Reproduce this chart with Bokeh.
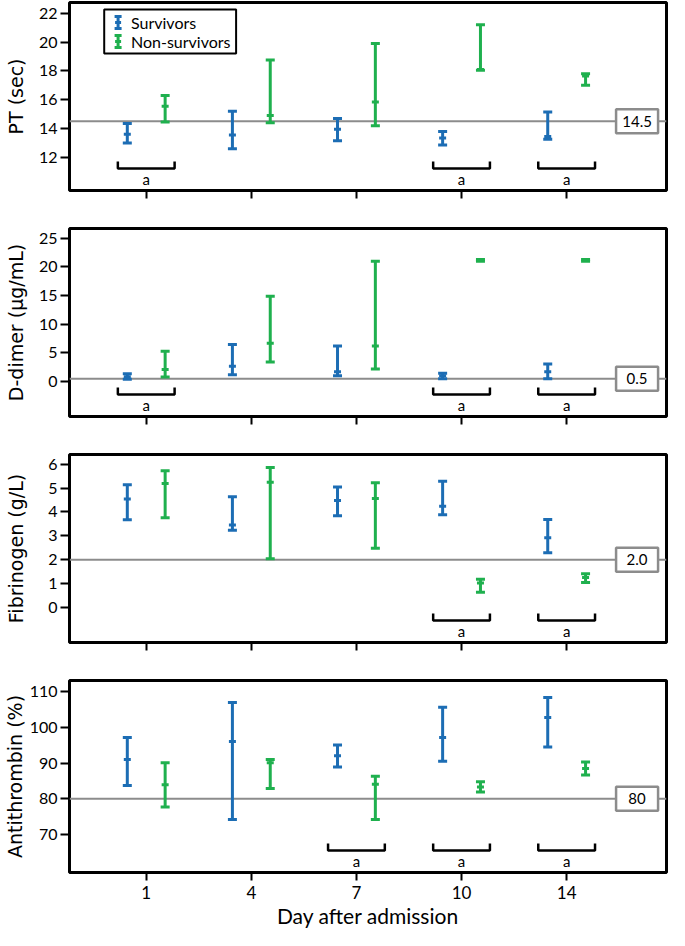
import numpy as np
from bokeh.plotting import figure
from bokeh.layouts import column
from bokeh.models import FixedTicker, Range1d, Span
from bokeh.core.properties import value
from bokeh.embed import file_html
from bokeh.resources import INLINE

# ---------------- data ----------------
days = ["1", "4", "7", "10", "14"]

pt_surv_med = [13.6, 13.55, 13.95, 13.35, 13.45]
pt_surv_lo = [13.0, 12.6, 13.15, 12.85, 13.25]
pt_surv_hi = [14.35, 15.2, 14.7, 13.8, 15.15]
pt_non_med = [15.55, 14.9, 15.85, 18.1, 17.65]
pt_non_lo = [14.45, 14.4, 14.2, 18.05, 17.0]
pt_non_hi = [16.3, 18.75, 19.9, 21.2, 17.8]

dd_surv_med = [0.85, 2.65, 1.7, 1.0, 1.7]
dd_surv_lo = [0.4, 1.2, 1.0, 0.5, 0.5]
dd_surv_hi = [1.35, 6.45, 6.2, 1.45, 3.05]
dd_non_med = [2.1, 6.7, 6.2, 21.15, 21.15]
dd_non_lo = [0.8, 3.4, 2.2, 21.0, 21.0]
dd_non_hi = [5.3, 14.9, 21.0, 21.3, 21.3]

fb_surv_med = [4.55, 3.45, 4.48, 4.24, 2.92]
fb_surv_lo = [3.68, 3.24, 3.84, 3.88, 2.29]
fb_surv_hi = [5.14, 4.64, 5.05, 5.29, 3.69]
fb_non_med = [5.19, 5.25, 4.57, 1.02, 1.25]
fb_non_lo = [3.76, 2.04, 2.48, 0.64, 1.05]
fb_non_hi = [5.73, 5.86, 5.23, 1.18, 1.41]

at_surv_med = [91.0, 96.1, 92.1, 97.2, 102.8]
at_surv_lo = [83.7, 74.2, 88.9, 90.5, 94.5]
at_surv_hi = [97.2, 107.0, 95.1, 105.7, 108.4]
at_non_med = [83.9, 90.1, 84.1, 83.3, 88.5]
at_non_lo = [77.7, 82.85, 74.2, 81.9, 86.65]
at_non_hi = [90.1, 91.0, 86.3, 84.8, 90.3]

pt_ref, pt_ref_label = 14.5, "14.5"
dd_ref, dd_ref_label = 0.5, "0.5"
fb_ref, fb_ref_label = 2.0, "2.0"
at_ref, at_ref_label = 80, "80"

pt_sig = ["1", "10", "14"]
dd_sig = ["1", "10", "14"]
fb_sig = ["10", "14"]
at_sig = ["7", "10", "14"]

pt_yticks = [12, 14, 16, 18, 20, 22]
dd_yticks = [0, 5, 10, 15, 20, 25]
fb_yticks = [0, 1, 2, 3, 4, 5, 6]
at_yticks = [70, 80, 90, 100, 110]

series_names = ["Survivors", "Non-survivors"]

# ---------------- style ----------------
BLUE = "#1c6db4"
GREEN = "#1fb04e"
GRAY = "#8c8c8c"
NARROW = "Lato"
WIDE = "DejaVu Sans"
W = 669
BL, BR = 64, 3
XR = (-0.73, 4.95)
OFF = 0.18


def make_panel(ylabel, yr, yticks, surv, non, ref, ref_label, sig,
               height, btop, bbot, lab_standoff, bottom_axis=False, legend=False):
    fw = W - BL - BR
    fh = height - btop - bbot
    p = figure(width=W, height=height, x_range=Range1d(*XR), y_range=Range1d(*yr),
               output_backend="svg", toolbar_location=None,
               min_border_left=BL, min_border_right=BR,
               min_border_top=btop, min_border_bottom=bbot)
    p.xgrid.visible = False
    p.ygrid.visible = False
    p.outline_line_color = "black"
    p.outline_line_width = 3
    p.outline_line_alpha = 1

    ux = (XR[1] - XR[0]) / fw
    uy = (yr[1] - yr[0]) / fh

    xs = np.arange(len(days))

    # reference line
    p.add_layout(Span(location=ref, dimension="width", line_color=GRAY,
                      line_width=2, level="underlay"))

    # error bars
    for vals, col, off in ((surv, BLUE, -OFF), (non, GREEN, OFF)):
        med, lo, hi = vals
        x = xs + off
        p.segment(x0=x, y0=lo, x1=x, y1=hi, line_color=col, line_width=3)
        p.scatter(x=x, y=hi, marker="dash", size=9, line_color=col, line_width=3)
        p.scatter(x=x, y=lo, marker="dash", size=9, line_color=col, line_width=3)
        p.scatter(x=x, y=med, marker="dash", size=7, line_color=col, line_width=3)

    # ref label box
    bx = 4.67
    p.rect(x=[bx], y=[ref], width=42, height=24, width_units="screen",
           height_units="screen", fill_color="white", line_color=GRAY, line_width=2.5)
    p.text(x=[bx], y=[ref], text=[ref_label], text_align="center",
           text_baseline="middle", text_font=value(NARROW), text_font_size="15px",
           text_color="black")

    # significance brackets
    b = yr[0] + 22 * uy
    h = 7 * uy
    hw = 0.27
    idx = [days.index(d) for d in sig]
    p.multi_line(xs=[[i - hw, i - hw, i + hw, i + hw] for i in idx],
                 ys=[[b + h, b, b, b + h] for _ in idx],
                 line_color="black", line_width=2.5)
    p.text(x=idx, y=[b] * len(idx), text=["a"] * len(idx), y_offset=10,
           text_align="center", text_baseline="middle", text_font=value(NARROW),
           text_font_size="15px", text_color="black")

    # legend (manual, drawn inside panel)
    if legend:
        sx = lambda px: XR[0] + px * ux
        sy = lambda py: yr[1] - py * uy
        p.quad(left=[sx(35)], right=[sx(168)], top=[sy(7)], bottom=[sy(51)],
               fill_color="white", line_color="black", line_width=2)
        for name, col, yy in ((series_names[0], BLUE, 20), (series_names[1], GREEN, 39)):
            ix = sx(49)
            p.segment(x0=[ix], y0=[sy(yy - 6)], x1=[ix], y1=[sy(yy + 6)],
                      line_color=col, line_width=3)
            p.scatter(x=[ix, ix], y=[sy(yy - 6), sy(yy + 6)], marker="dash", size=7,
                      line_color=col, line_width=3)
            p.scatter(x=[ix], y=[sy(yy)], marker="dash", size=6, line_color=col, line_width=3)
            p.text(x=[sx(62)], y=[sy(yy)], text=[name], text_align="left",
                   text_baseline="middle", text_font=value(NARROW),
                   text_font_size="16px", text_color="black")

    # axes
    ya = p.yaxis[0]
    ya.ticker = FixedTicker(ticks=yticks)
    ya.axis_line_color = None
    ya.major_tick_out = 9
    ya.major_tick_in = 0
    ya.major_tick_line_width = 2
    ya.minor_tick_out = 0
    ya.minor_tick_in = 0
    ya.major_label_standoff = 3
    ya.major_label_text_font = NARROW
    ya.major_label_text_font_size = "16px"
    ya.major_label_text_color = "black"
    ya.axis_label = ylabel
    ya.axis_label_text_font = WIDE
    ya.axis_label_text_font_size = "19px"
    ya.axis_label_text_font_style = "normal"
    ya.axis_label_text_color = "black"
    ya.axis_label_standoff = lab_standoff

    xa = p.xaxis[0]
    xa.ticker = FixedTicker(ticks=list(range(len(days))))
    xa.axis_line_color = None
    xa.major_tick_out = 8
    xa.major_tick_in = 0
    xa.major_tick_line_width = 2
    xa.minor_tick_out = 0
    xa.minor_tick_in = 0
    if bottom_axis:
        xa.major_label_overrides = {i: d for i, d in enumerate(days)}
        xa.major_label_text_font = NARROW
        xa.major_label_text_font_size = "17px"
        xa.major_label_text_color = "black"
        xa.major_label_standoff = 5
        xa.axis_label = "Day after admission"
        xa.axis_label_text_font = NARROW
        xa.axis_label_text_font_size = "21px"
        xa.axis_label_text_font_style = "normal"
        xa.axis_label_text_color = "black"
        xa.axis_label_standoff = 1
    else:
        xa.major_label_overrides = {i: "" for i in range(len(days))}
        xa.major_label_standoff = 0
    return p


p1 = make_panel("PT (sec)", (9.7, 22.75), pt_yticks,
                (pt_surv_med, pt_surv_lo, pt_surv_hi), (pt_non_med, pt_non_lo, pt_non_hi),
                pt_ref, pt_ref_label, pt_sig, 226, 2, 36, 9, legend=True)
p2 = make_panel("D-dimer (\u00b5g/mL)", (-6.1, 26.7), dd_yticks,
                (dd_surv_med, dd_surv_lo, dd_surv_hi), (dd_non_med, dd_non_lo, dd_non_hi),
                dd_ref, dd_ref_label, dd_sig, 226, 2, 36, 9)
p3 = make_panel("Fibrinogen (g/L)", (-1.47, 6.41), fb_yticks,
                (fb_surv_med, fb_surv_lo, fb_surv_hi), (fb_non_med, fb_non_lo, fb_non_hi),
                fb_ref, fb_ref_label, fb_sig, 226, 2, 36, 18)
p4 = make_panel("Antithrombin (%)", (59.3, 113.2), at_yticks,
                (at_surv_med, at_surv_lo, at_surv_hi), (at_non_med, at_non_lo, at_non_hi),
                at_ref, at_ref_label, at_sig, 252, 2, 58, 1, bottom_axis=True)

layout = column(p1, p2, p3, p4, spacing=0)
open("out.html", "w").write(file_html(layout, INLINE))
